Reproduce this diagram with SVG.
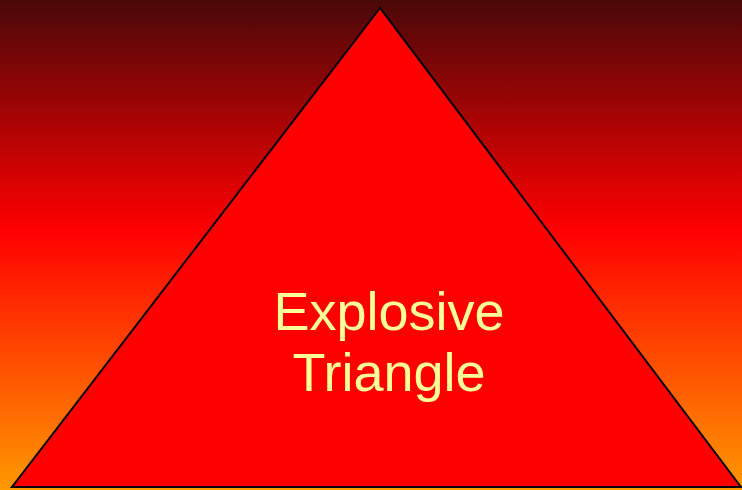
<svg xmlns="http://www.w3.org/2000/svg" width="742" height="490" viewBox="0 0 742 490">
<defs>
<linearGradient id="bg" x1="0" y1="0" x2="0" y2="1">
<stop offset="0" stop-color="#4a0808"/>
<stop offset="0.47" stop-color="#ff0000"/>
<stop offset="1" stop-color="#ff9900"/>
</linearGradient>
<style>
.lbl{font-family:"Liberation Sans",Arial,sans-serif;font-size:54px;fill:#ffff99;text-anchor:middle}
</style>
</defs>
<rect x="0" y="0" width="742" height="490" fill="url(#bg)"/>
<g id="triangle">
<polygon points="380,8 12,487 741,487" fill="#ff0000" stroke="#000" stroke-width="2"/>
<text class="lbl" x="389" y="330">Explosive</text>
<text class="lbl" x="389" y="391">Triangle</text>
</g>
</svg>
